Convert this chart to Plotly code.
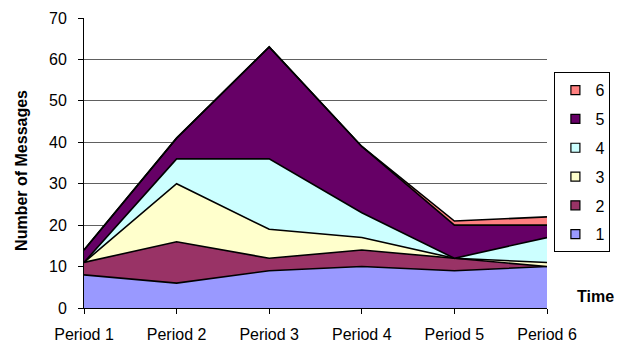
import plotly.graph_objects as go

periods = ["Period 1", "Period 2", "Period 3", "Period 4", "Period 5", "Period 6"]
series_names = ["1", "2", "3", "4", "5", "6"]
s1 = [8, 6, 9, 10, 9, 10]
s2 = [3, 10, 3, 4, 3, 0]
s3 = [0, 14, 7, 3, 0, 1]
s4 = [0, 6, 17, 6, 0, 6]
s5 = [3, 5, 27, 16, 8, 3]
s6 = [0, 0, 0, 0, 1, 2]
colors = ["#9999FF", "#993366", "#FFFFCC", "#CCFFFF", "#660066", "#FF8080"]
y_ticks = [0, 10, 20, 30, 40, 50, 60, 70]

FONT = "Liberation Sans, Arial, sans-serif"
series = [s1, s2, s3, s4, s5, s6]

fig = go.Figure()

# stacked areas with black outlines
for name, vals, col in zip(series_names, series, colors):
    fig.add_trace(go.Scatter(
        x=periods, y=vals, name=name, stackgroup="msgs", mode="lines",
        line=dict(color="black", width=1.6), fillcolor=col,
        showlegend=False, hoverinfo="x+y+name",
    ))

# square legend keys, top series listed first
for name, col in reversed(list(zip(series_names, colors))):
    fig.add_trace(go.Scatter(
        x=[None], y=[None], name=name, mode="markers", legendgroup=name,
        marker=dict(symbol="square", size=9, color=col,
                    line=dict(color="black", width=1.2)),
    ))

fig.update_layout(
    width=624, height=344,
    margin=dict(l=84, r=77, t=18, b=36, autoexpand=False),
    paper_bgcolor="white", plot_bgcolor="white",
    font=dict(family=FONT, size=16, color="black"),
    showlegend=True,
    legend=dict(
        x=1.016, xanchor="left", y=0.813, yanchor="top",
        bordercolor="black", borderwidth=1, bgcolor="white",
        font=dict(size=16), traceorder="grouped",
        tracegroupgap=5, itemwidth=30,
    ),
    xaxis=dict(
        type="category", range=[0, len(periods) - 1],
        showline=True, linecolor="black", linewidth=1,
        ticks="outside", ticklen=5, tickcolor="black",
        showgrid=False, ticklabelstandoff=7, zeroline=False,
    ),
    yaxis=dict(
        range=[0, 70], tickvals=y_ticks,
        showline=True, linecolor="black", linewidth=1,
        ticks="outside", ticklen=5, tickcolor="black",
        showgrid=True, gridcolor="#606060", gridwidth=1,
        ticklabelstandoff=8, zeroline=False,
    ),
    annotations=[
        dict(text="<b>Number of Messages</b>", textangle=-90,
             xref="paper", yref="paper", x=-0.134, y=0.476,
             xanchor="center", yanchor="middle", showarrow=False,
             font=dict(size=16)),
        dict(text="<b>Time</b>", xref="paper", yref="paper",
             x=1.104, y=0.038, xanchor="center", yanchor="middle",
             showarrow=False, font=dict(size=16)),
    ],
)

fig.write_html("out.html")
